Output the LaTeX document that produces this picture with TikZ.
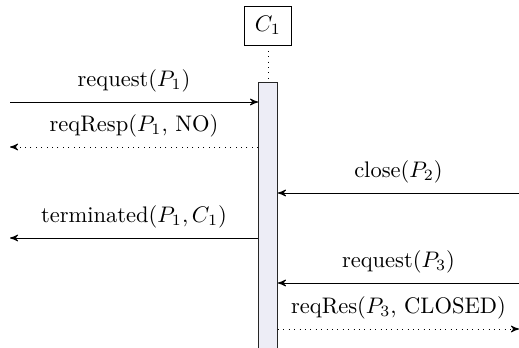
\documentclass[tikz,border=0pt]{standalone}
\usetikzlibrary{positioning,arrows}
\definecolor{actfill}{HTML}{EDEDF6}
\tikzstyle{sequence}=[
    x=0.4444pt,y=-0.4444pt,>=stealth',
    every node/.style={
        align=center,
    }]
\tikzstyle{object}=[draw,inner sep=4.5pt]
\tikzstyle{activation}=[draw=black!85,fill=actfill,minimum width=8.4pt,minimum height=118.2pt,inner sep=0pt,anchor=north]
\tikzstyle{call}=[->]
\tikzstyle{reply}=[->,dotted]

\begin{document}
\begin{tikzpicture}[sequence]
        \useasboundingbox (0,0) rectangle (519,348);
        \node[object] (c1) at (268,25.5) {$C_1$};
        \node[activation] (act) at (268,82) {};
        \draw[dotted] (c1.south) -- (act.north);

        % far ends of the messages
        \coordinate (m1) at (10,102);
        \coordinate (m2) at (10,147);
        \coordinate (m3) at (519,193);
        \coordinate (m4) at (10,238);
        \coordinate (m5) at (519,283);
        \coordinate (m6) at (519,329);

        \draw[call] (m1) -- node[above=1pt] {request($P_1$)} (m1 -| act.west);
        \draw[reply] (m2 -| act.west) -- node[above=1pt] {reqResp($P_1$, NO)} (m2);
        \draw[call] (m3) -- node[above=1pt] {close($P_2$)} (m3 -| act.east);
        \draw[call] (m4 -| act.west) -- node[above=1pt] {terminated($P_1,C_1$)} (m4);
        \draw[call] (m5) -- node[above=1pt] {request($P_3$)} (m5 -| act.east);
        \draw[reply] (m6 -| act.east) -- node[above=1pt] {reqRes($P_3$, CLOSED)} (m6);
    \end{tikzpicture}
\end{document}
